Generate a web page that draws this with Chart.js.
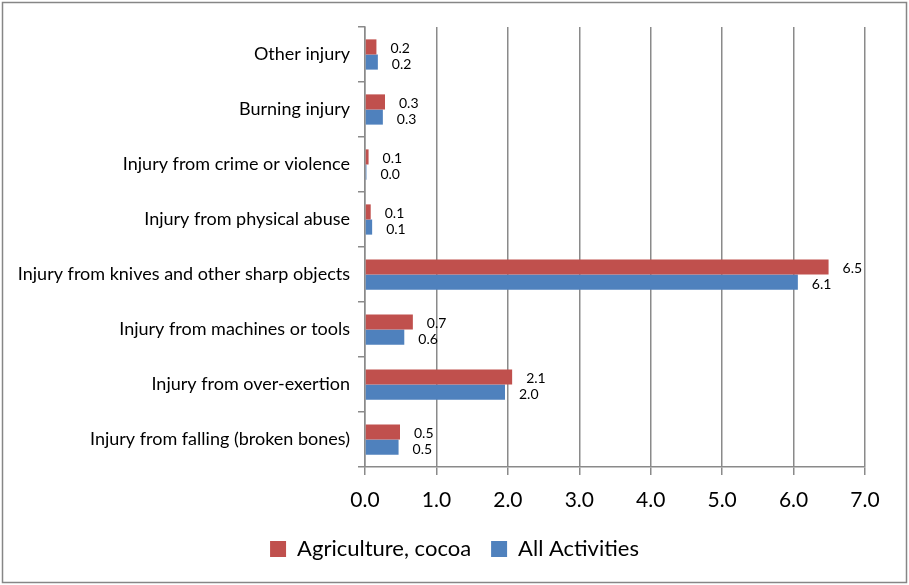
<!DOCTYPE html>
<html>
<head>
<meta charset="utf-8">
<script src="https://cdn.jsdelivr.net/npm/chart.js@4.4.1/dist/chart.umd.min.js"></script>
<style>
  html, body { margin: 0; padding: 0; background: #fff; }
  #wrap { width: 909px; height: 585px; }
</style>
</head>
<body>
<div id="wrap"><canvas id="injuryChart" width="909" height="585"></canvas></div>
<script>
// Kategoriler ve seriler
const categories = [
    'Other injury',
    'Burning injury',
    'Injury from crime or violence',
    'Injury from physical abuse',
    'Injury from knives and other sharp objects',
    'Injury from machines or tools',
    'Injury from over-exertion',
    'Injury from falling (broken bones)'
];
const agricultureCocoa = [0.16, 0.28, 0.05, 0.08, 6.49, 0.67, 2.06, 0.49];
const allActivities = [0.18, 0.25, 0.02, 0.10, 6.06, 0.55, 1.96, 0.47];
const xTicks = [0, 1, 2, 3, 4, 5, 6, 7];

const FONT = 'Lato, "DejaVu Sans", sans-serif';
const GRID = '#8a8a8a';

// Çubukların sağına değer etiketleri
const valueLabels = {
    id: 'valueLabels',
    afterDatasetsDraw(chart) {
        const ctx = chart.ctx;
        ctx.save();
        ctx.font = '14px ' + FONT;
        ctx.fillStyle = '#000';
        ctx.textAlign = 'left';
        ctx.textBaseline = 'middle';
        chart.data.datasets.forEach((ds, i) => {
            chart.getDatasetMeta(i).data.forEach((bar, j) => {
                ctx.fillText(ds.data[j].toFixed(1), bar.x + 14, bar.y + 2);
            });
        });
        ctx.restore();
    }
};

// Dış çerçeve
const outerFrame = {
    id: 'outerFrame',
    beforeDraw(chart) {
        const ctx = chart.ctx;
        ctx.save();
        ctx.fillStyle = '#fff';
        ctx.fillRect(0, 0, chart.width, chart.height);
        ctx.strokeStyle = '#868686';
        ctx.lineWidth = 1.5;
        ctx.strokeRect(2.5, 2.5, chart.width - 5, chart.height - 5);
        ctx.restore();
    }
};

const injuryChart = new Chart(
    document.getElementById('injuryChart'),
    {
        type: 'bar',
        data: {
            labels: categories,
            datasets: [{
                label: 'Agriculture, cocoa',
                data: agricultureCocoa,
                backgroundColor: '#C0504D',
                categoryPercentage: 0.55,
                barPercentage: 1.0
            }, {
                label: 'All Activities',
                data: allActivities,
                backgroundColor: '#4F81BD',
                categoryPercentage: 0.55,
                barPercentage: 1.0
            }]
        },
        options: {
            indexAxis: 'y',
            responsive: false,
            animation: false,
            layout: {
                padding: { top: 27, right: 0, left: 0, bottom: 15 }
            },
            plugins: {
                legend: {
                    position: 'bottom',
                    labels: {
                        color: '#000',
                        boxWidth: 16,
                        boxHeight: 16,
                        padding: 20,
                        font: { family: FONT, size: 22 }
                    }
                },
                tooltip: { enabled: false }
            },
            scales: {
                x: {
                    min: 0,
                    max: 7,
                    afterBuildTicks(scale) {
                        scale.ticks = xTicks.map(v => ({ value: v }));
                    },
                    afterFit(scale) {
                        scale.height = 51;
                    },
                    grid: {
                        color: GRID,
                        lineWidth: 1.5,
                        tickLength: 8
                    },
                    border: { color: GRID, width: 1.5 },
                    ticks: {
                        color: '#000',
                        padding: 13,
                        font: { family: FONT, size: 21 },
                        callback: v => Number(v).toFixed(1)
                    }
                },
                y: {
                    afterFit(scale) {
                        scale.width = 365;
                    },
                    grid: {
                        offset: true,
                        drawOnChartArea: false,
                        color: GRID,
                        lineWidth: 1.5,
                        tickLength: 7
                    },
                    border: { color: GRID, width: 1.5 },
                    ticks: {
                        color: '#000',
                        padding: 8,
                        font: { family: FONT, size: 18 }
                    }
                },
                // sağda boş kenar boşluğu (gösterge ortada kalsın diye)
                yRight: {
                    type: 'category',
                    position: 'right',
                    afterFit(scale) {
                        scale.width = 44;
                    },
                    grid: { display: false },
                    border: { display: false },
                    ticks: { display: false }
                }
            }
        },
        plugins: [outerFrame, valueLabels]
    }
);
</script>
</body>
</html>
